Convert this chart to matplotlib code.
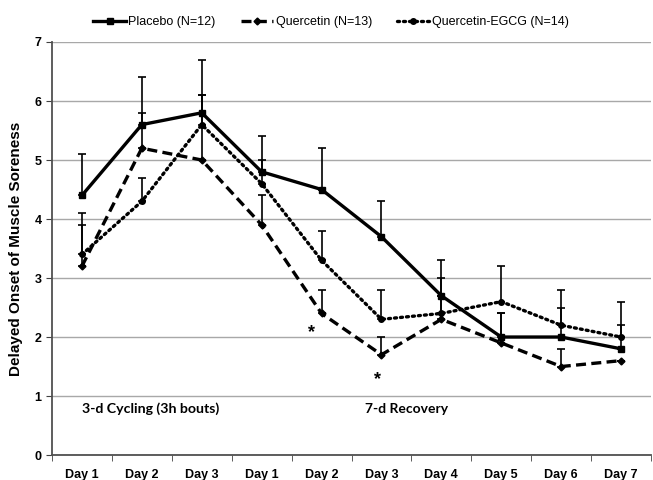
import matplotlib.pyplot as plt
import numpy as np

days = ["Day 1", "Day 2", "Day 3", "Day 1", "Day 2", "Day 3", "Day 4", "Day 5", "Day 6", "Day 7"]

placebo = [4.4, 5.6, 5.8, 4.8, 4.5, 3.7, 2.7, 2.0, 2.0, 1.8]
placebo_err = [0.7, 0.8, 0.9, 0.6, 0.7, 0.6, 0.6, 0.4, 0.5, 0.4]
quercetin = [3.2, 5.2, 5.0, 3.9, 2.4, 1.7, 2.3, 1.9, 1.5, 1.6]
quercetin_err = [0.7, 0.6, 1.1, 0.5, 0.4, 0.3, 0.4, 0.5, 0.3, 0.0]
egcg = [3.4, 4.3, 5.6, 4.6, 3.3, 2.3, 2.4, 2.6, 2.2, 2.0]
egcg_err = [0.7, 0.4, 0.5, 0.4, 0.5, 0.5, 0.6, 0.6, 0.6, 0.6]

stars = [(3.83, 2.08), (4.93, 1.28)]

plt.rcParams['font.family'] = ['Liberation Sans Narrow', 'Liberation Sans', 'DejaVu Sans']

fig = plt.figure(figsize=(6.53, 4.8), dpi=100)
ax = fig.add_axes([0.0796, 0.052, 0.9174, 0.8605])

x = np.arange(len(days))

err_kw = dict(fmt="none", ecolor="black", elinewidth=1.2, capsize=3, capthick=1.2)
ax.errorbar(x, placebo, yerr=[np.zeros(len(x)), placebo_err], **err_kw)
ax.errorbar(x, quercetin, yerr=[np.zeros(len(x)), quercetin_err], **err_kw)
ax.errorbar(x, egcg, yerr=[np.zeros(len(x)), egcg_err], **err_kw)

ax.plot(x, placebo, "-", color="black", lw=2.4, marker="s", ms=4,
        label="Placebo (N=12)")
ax.plot(x, quercetin, color="black", lw=2.4, ls=(0, (3, 1.6)), marker="D", ms=3.5,
        label="Quercetin (N=13)")
ax.plot(x, egcg, color="black", lw=2.4, ls=(0, (0.6, 1.2)), dash_capstyle="round",
        marker="o", ms=4, label="Quercetin-EGCG (N=14)")

for sx, sy in stars:
    ax.text(sx, sy, "*", fontsize=13, fontweight="bold", ha="center", va="center")

ax.text(0.0, 0.78, "3-d Cycling (3h bouts)", family="Lato", fontweight="bold",
        fontsize=10.2, ha="left", va="center")
ax.text(4.72, 0.78, "7-d Recovery", family="Lato", fontweight="bold",
        fontsize=10, ha="left", va="center")

ax.set_xlim(-0.5, len(days) - 0.5)
ax.set_ylim(0, 7)
ax.set_yticks(range(8))
ax.set_xticks(x)
ax.set_xticklabels(days, fontweight="bold", fontsize=9)
ax.set_xticks(np.arange(-0.5, len(days)), minor=True)
ax.tick_params(axis="x", which="major", length=0, pad=10)
ax.tick_params(axis="x", which="minor", length=4, color="#404040")
ax.tick_params(axis="y", length=4, color="#404040", labelsize=9)
for lab in ax.get_yticklabels():
    lab.set_fontweight("bold")

ax.grid(axis="y", color="#a8a8a8", lw=1)
ax.set_axisbelow(True)
for s in ["top", "right"]:
    ax.spines[s].set_visible(False)
ax.spines["left"].set_color("#505050")
ax.spines["bottom"].set_color("#505050")
ax.spines["left"].set_linewidth(1.3)
ax.spines["bottom"].set_linewidth(1.3)

ax.set_ylabel("Delayed Onset of Muscle Soreness", family="Liberation Sans",
              fontweight="bold", fontsize=11, labelpad=8)

fig.legend(loc="upper center", bbox_to_anchor=(0.507, 0.99), ncol=3, frameon=False,
           fontsize=9, handlelength=2.6, columnspacing=2.0, handletextpad=0.2)

fig.savefig("out.png", dpi=100)
